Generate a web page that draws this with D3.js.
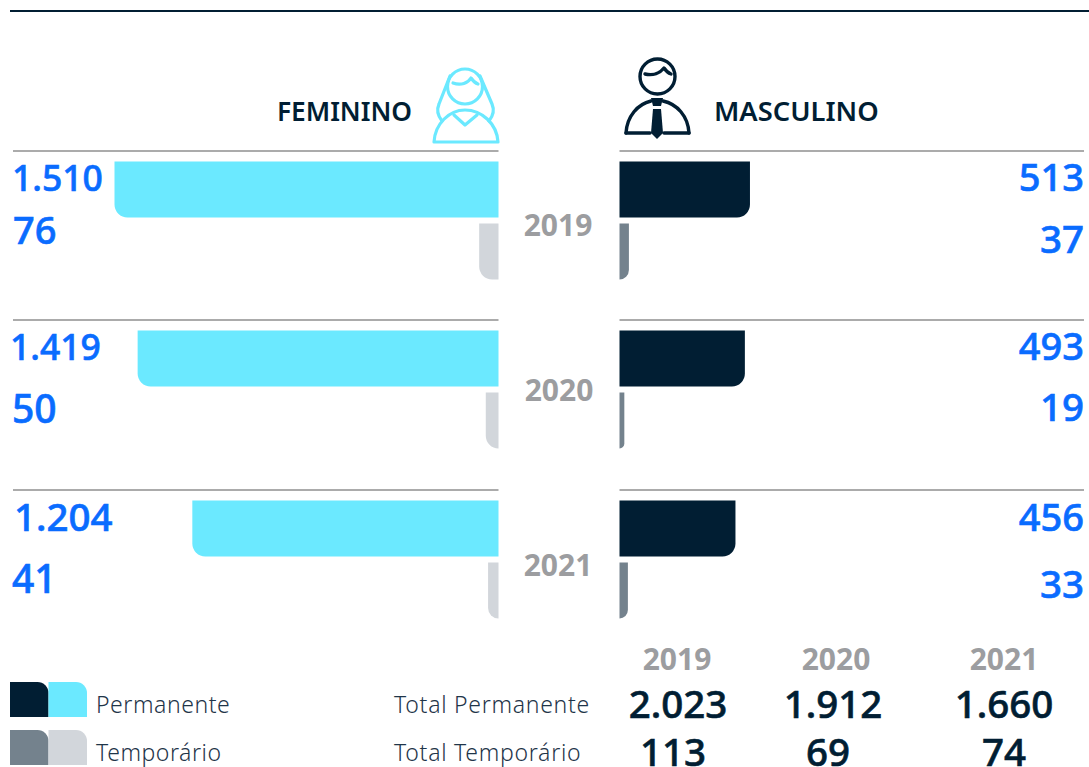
<!DOCTYPE html>
<html>
<head>
<meta charset="utf-8">
<script src="https://cdn.jsdelivr.net/npm/d3@7"></script>
<style>
  html, body { margin: 0; padding: 0; background: #fff; }
  svg { display: block; }
  text { font-family: "Noto Sans", sans-serif; }
</style>
</head>
<body>
<div id="chart"></div>
<script>
// data
const years = ["2019", "2020", "2021"];
const femininoPermanente = [1510, 1419, 1204];
const femininoTemporario = [76, 50, 41];
const masculinoPermanente = [513, 493, 456];
const masculinoTemporario = [37, 19, 33];
const totalPermanente = [2023, 1912, 1660];
const totalTemporario = [113, 69, 74];
const legendLabels = ["Permanente", "Temporário"];

const colors = {
  femPerm: "#6BE9FF",
  femTemp: "#D2D6DB",
  mascPerm: "#011E33",
  mascTemp: "#74828D",
  value: "#0A6CFF",
  year: "#9C9DA0",
  rule: "#ABABAB",
  ink: "#011E33",
  label: "#1F3549"
};

const width = 1089;
const height = 767;
const barHeight = 56;
const radius = 13;
const leftBase = 498.5;
const rightBase = 619.5;

const fmt = d3.formatLocale({ decimal: ",", thousands: ".", grouping: [3], currency: ["", ""] }).format(",d");

const svg = d3.select("#chart").append("svg")
  .attr("width", width)
  .attr("height", height)
  .attr("viewBox", `0 0 ${width} ${height}`);

// shared value scale, both sides grow out from the middle
const len = d3.scaleLinear().domain([0, 1510]).range([0, 384]);
const rowTop = d3.scaleOrdinal(years, [151, 320, 490]);
const kindOffset = d3.scaleOrdinal(["perm", "temp"], [10.5, 72.5]);

// bar with one rounded bottom corner on the outer side
function barPath(x0, w, y, h, dir) {
  const r = Math.min(radius, w);
  const x1 = x0 + dir * w;
  const p = d3.path();
  p.moveTo(x0, y);
  p.lineTo(x1, y);
  p.lineTo(x1, y + h - r);
  p.arcTo(x1, y + h, x1 - dir * r, y + h, r);
  p.lineTo(x0, y + h);
  p.closePath();
  return p.toString();
}

// top rule
svg.append("line")
  .attr("x1", 10).attr("x2", width).attr("y1", 11).attr("y2", 11)
  .attr("stroke", colors.ink).attr("stroke-width", 2);

// row rules
const sides = [
  { x0: leftBase, x1: 13 },
  { x0: rightBase, x1: 1084 }
];
sides.forEach(s => {
  svg.selectAll(null).data(years).enter().append("line")
    .attr("x1", s.x0).attr("x2", s.x1)
    .attr("y1", d => rowTop(d)).attr("y2", d => rowTop(d))
    .attr("stroke", colors.rule).attr("stroke-width", 2);
});

function drawBars(values, kind, x0, dir, fill) {
  svg.selectAll(null).data(values).enter().append("path")
    .attr("d", (d, i) => barPath(x0, len(d), rowTop(years[i]) + kindOffset(kind), barHeight, dir))
    .attr("fill", fill);
}
drawBars(femininoPermanente, "perm", leftBase, -1, colors.femPerm);
drawBars(femininoTemporario, "temp", leftBase, -1, colors.femTemp);
drawBars(masculinoPermanente, "perm", rightBase, 1, colors.mascPerm);
drawBars(masculinoTemporario, "temp", rightBase, 1, colors.mascTemp);

// value labels, the source places and sizes them by hand so keep that here
function drawValues(values, xs, baselines, sizes, anchor) {
  svg.selectAll(null).data(values).enter().append("text")
    .attr("x", (d, i) => xs[i])
    .attr("y", (d, i) => baselines[i])
    .attr("text-anchor", anchor)
    .attr("font-size", (d, i) => sizes[i])
    .attr("font-weight", 500)
    .attr("fill", colors.value)
    .attr("stroke", colors.value)
    .attr("stroke-width", 0.6)
    .text(d => fmt(d));
}
drawValues(femininoPermanente, [12, 10, 14], [190.5, 359.5, 531], [35.5, 35.5, 38.5], "start");
drawValues(femininoTemporario, [13, 12, 12], [244, 423, 593], [38, 39, 39], "start");
drawValues(masculinoPermanente, [1084, 1084, 1084], [190.5, 359.5, 530.5], [38, 38, 38], "end");
drawValues(masculinoTemporario, [1084, 1084, 1084], [253, 421, 598], [38.5, 38.5, 38.5], "end");

// years between the two sides
svg.selectAll(null).data(years).enter().append("text")
  .attr("x", (d, i) => [558, 559, 558][i])
  .attr("y", (d, i) => [236, 401, 576][i])
  .attr("text-anchor", "middle")
  .attr("font-size", 30)
  .attr("font-weight", 700)
  .attr("fill", colors.year)
  .text(d => d);

// headers
svg.append("text").attr("x", 412).attr("y", 120.5).attr("text-anchor", "end")
  .attr("font-size", 26.3).attr("font-weight", 600).attr("fill", colors.ink).text("FEMININO");
svg.append("text").attr("x", 714).attr("y", 120.5)
  .attr("font-size", 27.3).attr("font-weight", 600).attr("fill", colors.ink).text("MASCULINO");

// woman icon
const woman = svg.append("g").attr("fill", "none").attr("stroke", colors.femPerm)
  .attr("stroke-width", 3.2).attr("stroke-linejoin", "round").attr("stroke-linecap", "round");
woman.append("circle").attr("cx", 465).attr("cy", 86.5).attr("r", 17.5);
woman.append("path").attr("d", "M453 83 C461 86 468 83 471 78 C473 81 475 83 478 84");
woman.append("path").attr("d", "M450 76 L439 104 C436 111 438 116 442 121");
woman.append("path").attr("d", "M480 76 L492 104 C495 111 493 116 489 121");
woman.append("path").attr("d", "M434 142 C435 124 449 110 465 110 C482 110 497 124 498 142 Z");
woman.append("path").attr("d", "M454 115 L465 125 L477 115");

// man icon
const man = svg.append("g").attr("fill", "none").attr("stroke", colors.mascPerm)
  .attr("stroke-width", 3.4).attr("stroke-linejoin", "round").attr("stroke-linecap", "round");
man.append("circle").attr("cx", 657.5).attr("cy", 76.5).attr("r", 17.5);
man.append("path").attr("d", "M645 74 C653 76 660 73 664 68 C666 71 668 73 671 74");
man.append("path").attr("d", "M626 133 C627 116 638 104 651 101");
man.append("path").attr("d", "M663 101 C677 104 688 116 689 133");
man.append("path").attr("d", "M626 133 L650 133");
man.append("path").attr("d", "M664 133 L689 133");
svg.append("path").attr("fill", colors.mascPerm)
  .attr("d", "M651 98 L663 98 L661 106 L653 106 Z");
svg.append("path").attr("fill", colors.mascPerm)
  .attr("d", "M653 109 L661 109 L663 133 L657 139 L651 133 Z");

// legend
const swatchRows = d3.scaleOrdinal(legendLabels, [682, 730]);
const swatchFills = [
  [colors.mascPerm, colors.femPerm],
  [colors.mascTemp, colors.femTemp]
];
const swatchPath = (x, y) => {
  const w = 38.5, h = 35, r = 11;
  const p = d3.path();
  p.moveTo(x, y + h);
  p.lineTo(x, y);
  p.lineTo(x + w - r, y);
  p.arcTo(x + w, y, x + w, y + r, r);
  p.lineTo(x + w, y + h);
  p.closePath();
  return p.toString();
};
legendLabels.forEach((label, i) => {
  const y = swatchRows(label);
  svg.append("path").attr("d", swatchPath(10, y)).attr("fill", swatchFills[i][0]);
  svg.append("path").attr("d", swatchPath(48.5, y)).attr("fill", swatchFills[i][1]);
  svg.append("text").attr("x", 96).attr("y", y + 31)
    .attr("font-size", 23).attr("font-weight", 300).attr("letter-spacing", 0.55)
    .attr("fill", colors.label).text(label);
  svg.append("text").attr("x", 394).attr("y", y + 31)
    .attr("font-size", 23).attr("font-weight", 300).attr("letter-spacing", 0.72)
    .attr("fill", colors.label).text("Total " + label);
});

// totals table
const tableX = [677, 836, 1004];
svg.selectAll(null).data(years).enter().append("text")
  .attr("x", (d, i) => tableX[i]).attr("y", 670)
  .attr("text-anchor", "middle").attr("font-size", 30).attr("font-weight", 700)
  .attr("fill", colors.year).text(d => d);

function drawTotals(values, xs, y) {
  svg.selectAll(null).data(values).enter().append("text")
    .attr("x", (d, i) => xs[i]).attr("y", y)
    .attr("text-anchor", "middle").attr("font-size", 38.5).attr("font-weight", 500)
    .attr("fill", colors.ink)
    .attr("stroke", colors.ink)
    .attr("stroke-width", 0.6)
    .text(d => fmt(d));
}
drawTotals(totalPermanente, [678, 833, 1004], 717.5);
drawTotals(totalTemporario, [673, 828, 1004], 765.5);
</script>
</body>
</html>
